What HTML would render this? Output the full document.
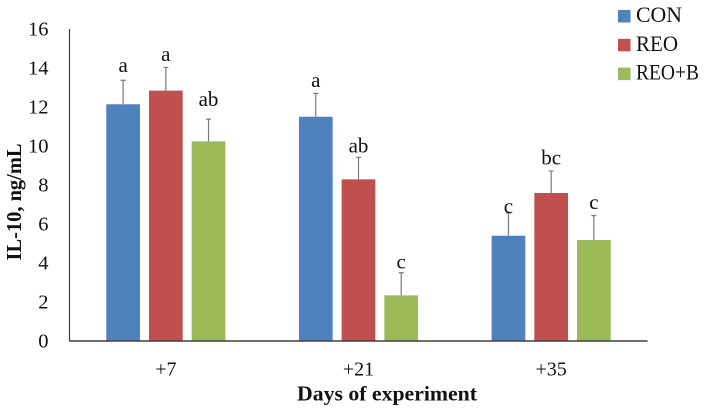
<!DOCTYPE html>
<html lang="en">
<head>
<meta charset="utf-8">
<title>IL-10 by days of experiment</title>
<style>
html,body{margin:0;padding:0;background:#fff;}
body{width:707px;height:414px;overflow:hidden;}
svg{display:block;filter:blur(0.3px);}
text{font-family:"Liberation Serif",serif;fill:#111;}
</style>
</head>
<body>
<svg id="chart" width="707" height="414" viewBox="0 0 707 414" xmlns="http://www.w3.org/2000/svg"></svg>
<script>
const categories = ['+7', '+21', '+35'];
const seriesNames = ['CON', 'REO', 'REO+B'];
const conValues = [12.14, 11.5, 5.4];
const reoValues = [12.84, 8.29, 7.59];
const reoBValues = [10.24, 2.34, 5.18];
const conErrors = [1.23, 1.2, 1.16];
const reoErrors = [1.19, 1.13, 1.13];
const reoBErrors = [1.14, 1.16, 1.25];
const conLetters = ['a', 'a', 'c'];
const reoLetters = ['a', 'ab', 'bc'];
const reoBLetters = ['ab', 'c', 'c'];
const yTicks = [0, 2, 4, 6, 8, 10, 12, 14, 16];

const seriesValues = [conValues, reoValues, reoBValues];
const seriesErrors = [conErrors, reoErrors, reoBErrors];
const seriesLetters = [conLetters, reoLetters, reoBLetters];

const NS = 'http://www.w3.org/2000/svg';
const svg = document.getElementById('chart');

function make(tag, attrs, parent, text) {
  const el = document.createElementNS(NS, tag);
  for (const k in attrs) el.setAttribute(k, attrs[k]);
  if (text !== undefined) el.textContent = text;
  (parent || svg).appendChild(el);
  return el;
}

function draw() {
  const colors = ['#4f81bd', '#c0504d', '#9bbb59'];
  const plot = { left: 69.5, right: 647.5, top: 29, bottom: 341 };
  const yMax = 16;
  const barW = 33.7;
  const barStep = 42.7;
  const letterGap = 6.5;
  const letterNudge = { '0,0': 2, '2,0': 6.5, '0,2': -6.5, '1,1': -1.5, '2,1': -2 };

  const y = v => plot.bottom - (v / yMax) * (plot.bottom - plot.top);
  const xCenter = i => plot.left + (i + 0.5) * (plot.right - plot.left) / categories.length;
  const xBar = (i, s) => xCenter(i) + (s - 1) * barStep - barW / 2;

  yTicks.forEach(t => {
    const label = make('text', { x: 48.5, y: y(t) + 6.5, 'text-anchor': 'end', 'font-size': 20.5 }, svg, String(t));
    
    
  });

  seriesValues.forEach((vals, s) => {
    vals.forEach((v, i) => {
      const bar = make('rect', { x: xBar(i, s), y: y(v), width: barW, height: plot.bottom - y(v), fill: colors[s] });
      
      

      const cx = xBar(i, s) + barW / 2;
      const topY = y(v + seriesErrors[s][i]);
      const err = make('path', {
        d: 'M' + cx + ' ' + y(v) + 'V' + topY + 'M' + (cx - 2.5) + ' ' + topY + 'H' + (cx + 2.5),
        stroke: '#7a7a7a', 'stroke-width': 1.2, fill: 'none'
      });
      
      

      const nudge = letterNudge[s + ',' + i] || 0;
      const letter = make('text', {
        x: cx, y: topY - letterGap - nudge, 'text-anchor': 'middle', 'font-size': 21
      }, svg, seriesLetters[s][i]);
      
      
    });
  });

  const yAxis = make('line', { x1: plot.left, x2: plot.left, y1: plot.top, y2: plot.bottom + 0.5, stroke: '#404040', 'stroke-width': 1.2 });
  
  

  const xAxis = make('line', { x1: plot.left, x2: plot.right, y1: plot.bottom, y2: plot.bottom, stroke: '#404040', 'stroke-width': 1.4 });
  
  

  categories.forEach((c, i) => {
    const label = make('text', { x: xCenter(i), y: 375.5, 'text-anchor': 'middle', 'font-size': 20 }, svg, c);
    
    
  });

  const xTitle = make('text', {
    x: 387, y: 400.5, 'text-anchor': 'middle', 'font-size': 21, 'font-weight': 'bold',
    textLength: 180, lengthAdjust: 'spacingAndGlyphs'
  }, svg, 'Days of experiment');
  
  

  const yTitle = make('text', {
    transform: 'translate(21 202) rotate(-90)', 'text-anchor': 'middle', 'font-size': 21, 'font-weight': 'bold',
    textLength: 117, lengthAdjust: 'spacingAndGlyphs'
  }, svg, 'IL-10, ng/mL');
  
  

  const legendWidths = [46, 42, 63];
  seriesNames.forEach((name, s) => {
    const rowY = 16 + s * 28.8;
    const group = make('g', {});
    
    

    const swatch = make('rect', { x: 618, y: rowY - 6, width: 12.5, height: 12.5, fill: colors[s] }, group);
    
    

    const label = make('text', {
      x: 636, y: rowY + 6, 'font-size': 22,
      textLength: legendWidths[s], lengthAdjust: 'spacingAndGlyphs'
    }, group, name);
    
    
  });
}

draw();
</script>
</body>
</html>
